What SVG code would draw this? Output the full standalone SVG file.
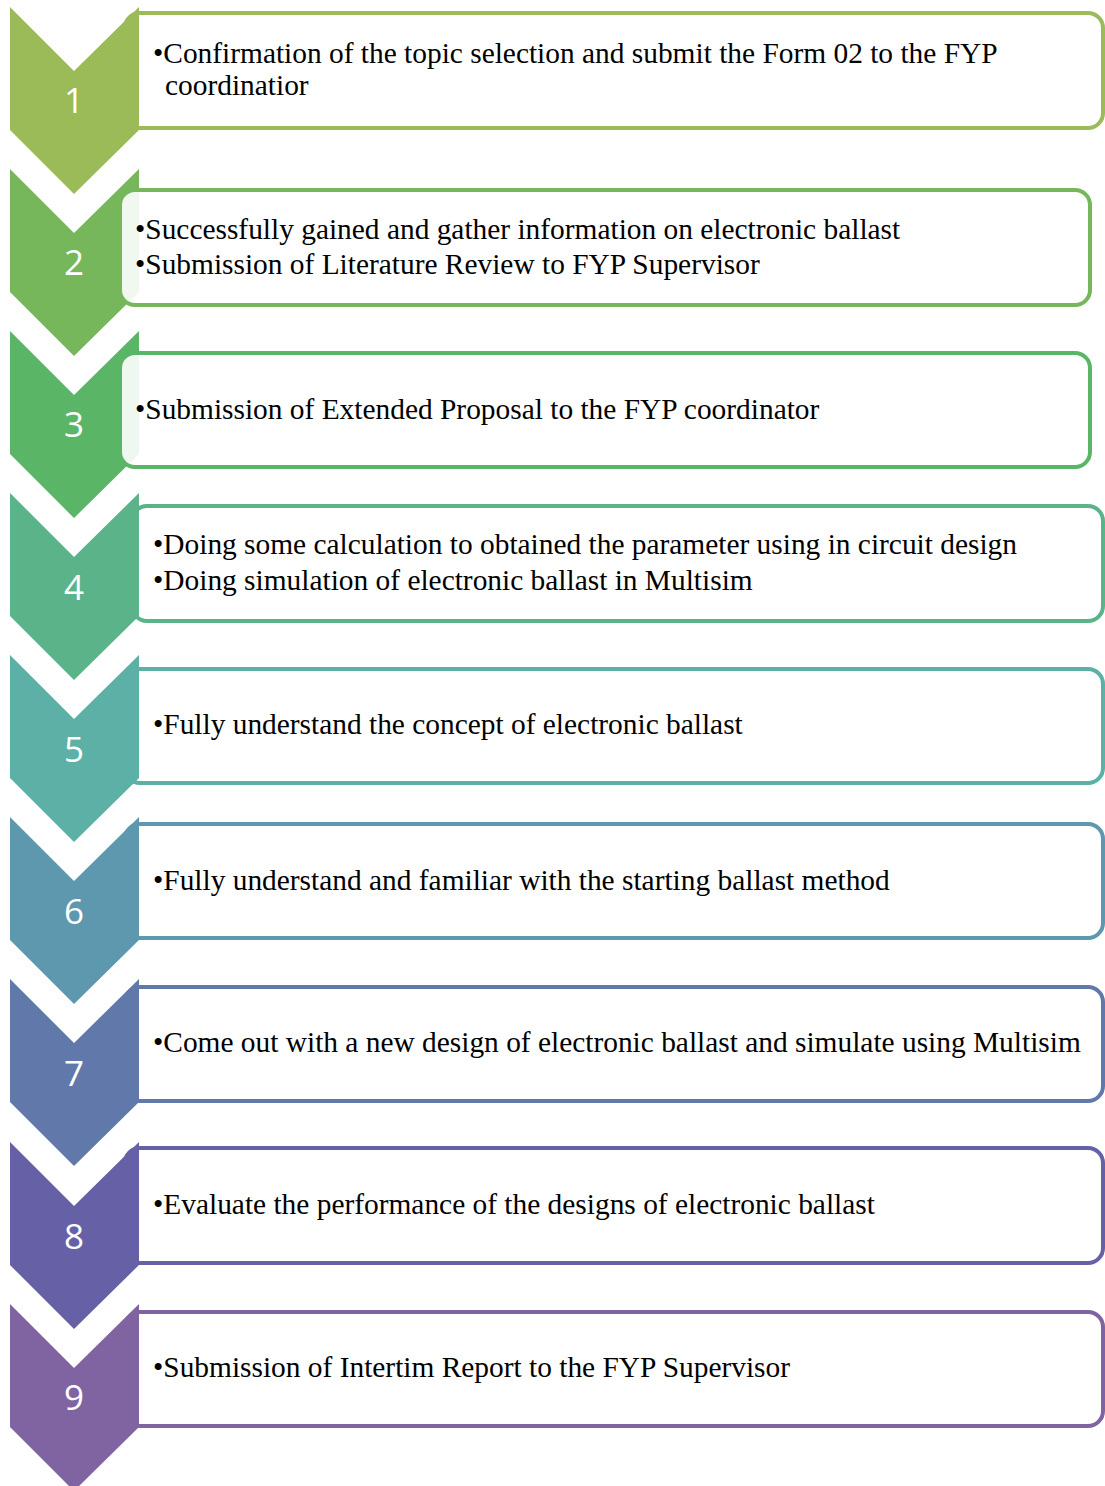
<svg xmlns="http://www.w3.org/2000/svg" width="1105" height="1486" viewBox="0 0 1105 1486">
<style>
.box{fill:#fff;fill-opacity:0.9;stroke-width:4}
.t{font-family:"Liberation Serif","Times New Roman",serif;font-size:29.4px;fill:#000}
.n{font-family:"Open Sans","Liberation Sans",sans-serif;font-size:35px;fill:#fff;text-anchor:middle}
</style>
<defs>
<path id="chev" d="M10,0 L74,64 L139,0 L139,123 L74,187 L10,123 Z"/>
</defs>
<rect width="1105" height="1486" fill="#fff"/>
<g id="step1">
<rect class="box" x="125" y="13" width="978" height="115" rx="15" stroke="#9BBB59"/>
<use href="#chev" y="7" fill="#9BBB59"/>
<text class="n" x="74" y="113">1</text>
<text class="t" x="153" y="63">•Confirmation of the topic selection and submit the Form 02 to the FYP</text>
<text class="t" x="165" y="95">coordinatior</text>
</g>
<g id="step2">
<use href="#chev" y="169" fill="#76B75C"/>
<rect class="box" x="120" y="190" width="970" height="115" rx="15" stroke="#76B75C"/>
<text class="n" x="74" y="275">2</text>
<text class="t" x="135" y="239">•Successfully gained and gather information on electronic ballast</text>
<text class="t" x="135" y="274">•Submission of Literature Review to FYP Supervisor</text>
</g>
<g id="step3">
<use href="#chev" y="331" fill="#5BB567"/>
<rect class="box" x="120" y="353" width="970" height="114" rx="15" stroke="#5BB567"/>
<text class="n" x="74" y="437">3</text>
<text class="t" x="135" y="419">•Submission of Extended Proposal to the FYP coordinator</text>
</g>
<g id="step4">
<rect class="box" x="132" y="506" width="971" height="115" rx="15" stroke="#5BB38A"/>
<use href="#chev" y="493" fill="#5BB38A"/>
<text class="n" x="74" y="600">4</text>
<text class="t" x="153" y="554">•Doing some calculation to obtained the parameter using in circuit design</text>
<text class="t" x="153" y="590">•Doing simulation of electronic ballast in Multisim</text>
</g>
<g id="step5">
<rect class="box" x="125" y="669" width="978" height="114" rx="15" stroke="#5CB0A5"/>
<use href="#chev" y="655" fill="#5CB0A5"/>
<text class="n" x="74" y="762">5</text>
<text class="t" x="153" y="734">•Fully understand the concept of electronic ballast</text>
</g>
<g id="step6">
<rect class="box" x="125" y="824" width="978" height="114" rx="15" stroke="#5E98AE"/>
<use href="#chev" y="817" fill="#5E98AE"/>
<text class="n" x="74" y="924">6</text>
<text class="t" x="153" y="890">•Fully understand and familiar with the starting ballast method</text>
</g>
<g id="step7">
<rect class="box" x="125" y="987" width="978" height="114" rx="15" stroke="#6179AA"/>
<use href="#chev" y="979" fill="#6179AA"/>
<text class="n" x="74" y="1086">7</text>
<text class="t" x="153" y="1052">•Come out with a new design of electronic ballast and simulate using Multisim</text>
</g>
<g id="step8">
<rect class="box" x="125" y="1148" width="978" height="115" rx="15" stroke="#6661A6"/>
<use href="#chev" y="1142" fill="#6661A6"/>
<text class="n" x="74" y="1249">8</text>
<text class="t" x="153" y="1214">•Evaluate the performance of the designs of electronic ballast</text>
</g>
<g id="step9">
<rect class="box" x="125" y="1312" width="978" height="114" rx="15" stroke="#8064A2"/>
<use href="#chev" y="1304" fill="#8064A2"/>
<text class="n" x="74" y="1410">9</text>
<text class="t" x="153" y="1377">•Submission of Intertim Report to the FYP Supervisor</text>
</g>
<g id="connectors"></g>
</svg>
